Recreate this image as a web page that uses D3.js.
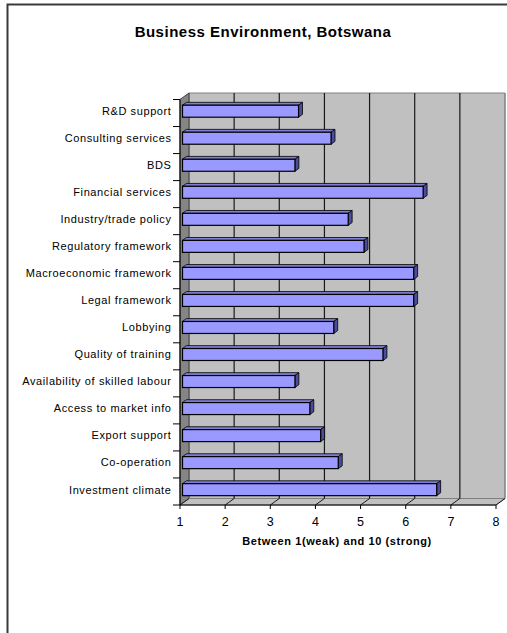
<!DOCTYPE html>
<html>
<head>
<meta charset="utf-8">
<script src="https://cdn.jsdelivr.net/npm/d3@7"></script>
<style>
  html, body { margin: 0; padding: 0; background: #fff; }
  svg { display: block; font-family: Arial, "Liberation Sans", sans-serif; }
</style>
</head>
<body>
<svg id="chart" width="507" height="633"></svg>
<script>
// Survey scores, scale 1 (weak) to 10 (strong)
const categories = [
  "R&D support", "Consulting services", "BDS", "Financial services",
  "Industry/trade policy", "Regulatory framework", "Macroeconomic framework",
  "Legal framework", "Lobbying", "Quality of training",
  "Availability of skilled labour", "Access to market info", "Export support",
  "Co-operation", "Investment climate"
];
const scores = [3.57, 4.29, 3.49, 6.33, 4.67, 5.02, 6.12, 6.12, 4.35, 5.44, 3.49, 3.82, 4.06, 4.45, 6.63];
const xTicks = [1, 2, 3, 4, 5, 6, 7, 8];
const chartTitle = "Business Environment, Botswana";
const xTitle = "Between 1(weak) and 10 (strong)";

const svg = d3.select("#chart");

// outer chart frame
svg.append("rect")
  .attr("x", 7.5).attr("y", 4.5).attr("width", 520).attr("height", 640)
  .attr("fill", "#fff").attr("stroke", "#3a3a3a").attr("stroke-width", 2);

svg.append("text")
  .attr("x", 263).attr("y", 37)
  .attr("text-anchor", "middle")
  .attr("font-size", 15).attr("font-weight", "bold")
  .attr("letter-spacing", 0.5)
  .text(chartTitle);

// front plane of the 3D box
const x = d3.scaleLinear().domain([1, 8]).range([180, 496]);
const y = d3.scaleBand().domain(categories).range([99.5, 505]).padding(0);

// box depth vector and bar placement inside it
const DX = 9, DY = -6.5;
const f0 = 0.28, f1 = 0.72;
const barH = 12;

const yTop = y.range()[0], yBot = y.range()[1];
const x0 = x(1), x1 = x(8);

const pt = p => p.map(d => d.join(",")).join(" ");

// back wall
svg.append("polygon")
  .attr("points", pt([[x0 + DX, yTop + DY], [x1 + DX, yTop + DY], [x1 + DX, yBot + DY], [x0 + DX, yBot + DY]]))
  .attr("fill", "#c0c0c0").attr("stroke", "#808080").attr("stroke-width", 1);

// left side wall
svg.append("polygon")
  .attr("points", pt([[x0, yTop], [x0 + DX, yTop + DY], [x0 + DX, yBot + DY], [x0, yBot]]))
  .attr("fill", "#858585").attr("stroke", "#404040").attr("stroke-width", 1);

// floor
svg.append("polygon")
  .attr("points", pt([[x0, yBot], [x1, yBot], [x1 + DX, yBot + DY], [x0 + DX, yBot + DY]]))
  .attr("fill", "#c0c0c0").attr("stroke", "#808080").attr("stroke-width", 1);

// gridlines on back wall and floor
const grid = svg.append("g");
xTicks.forEach(v => {
  const last = v === xTicks[xTicks.length - 1];
  const col = last ? "#808080" : "#1a1a1a";
  if (v !== xTicks[0]) {
    grid.append("line")
      .attr("x1", x(v) + DX).attr("x2", x(v) + DX)
      .attr("y1", yTop + DY).attr("y2", yBot + DY)
      .attr("stroke", col).attr("stroke-width", last ? 1 : 1.2);
  }
  grid.append("line")
    .attr("x1", x(v)).attr("y1", yBot)
    .attr("x2", x(v) + DX).attr("y2", yBot + DY)
    .attr("stroke", "#1a1a1a").attr("stroke-width", 1);
});

// 3D bars
const bars = svg.append("g");
categories.forEach((c, i) => {
  const v = scores[i];
  const cy = y(c) + y.bandwidth() / 2 + DY * f0;
  const bx0 = x(1) + DX * f0, bx1 = x(v) + DX * f0;
  const bt = cy - barH / 2, bb = cy + barH / 2;
  const ddx = DX * (f1 - f0), ddy = DY * (f1 - f0);
  const g = bars.append("g");
  g.append("polygon")
    .attr("points", pt([[bx0, bt], [bx1, bt], [bx1 + ddx, bt + ddy], [bx0 + ddx, bt + ddy]]))
    .attr("fill", "#7f7fd6").attr("stroke", "#000").attr("stroke-width", 0.8);
  g.append("polygon")
    .attr("points", pt([[bx1, bt], [bx1 + ddx, bt + ddy], [bx1 + ddx, bb + ddy], [bx1, bb]]))
    .attr("fill", "#4c4c99").attr("stroke", "#000").attr("stroke-width", 0.8);
  g.append("rect")
    .attr("x", bx0).attr("y", bt).attr("width", bx1 - bx0).attr("height", barH)
    .attr("fill", "#9999ff").attr("stroke", "#000").attr("stroke-width", 1.2);
});

// category axis
const yAxis = svg.append("g");
yAxis.append("line")
  .attr("x1", x0).attr("x2", x0).attr("y1", yTop).attr("y2", yBot)
  .attr("stroke", "#000").attr("stroke-width", 1);
const bounds = categories.map(c => y(c)).concat([yBot]);
bounds.forEach(b => {
  yAxis.append("line")
    .attr("x1", x0 - 7).attr("x2", x0).attr("y1", b).attr("y2", b)
    .attr("stroke", "#000").attr("stroke-width", 1);
});
categories.forEach(c => {
  yAxis.append("text")
    .attr("x", 171.5).attr("y", y(c) + y.bandwidth() / 2 + DY * f0)
    .attr("dy", "0.35em")
    .attr("text-anchor", "end")
    .attr("font-size", 11)
    .attr("letter-spacing", 0.6)
    .text(c);
});

// value axis
const xAxis = svg.append("g");
xAxis.append("line")
  .attr("x1", x0).attr("x2", x1).attr("y1", yBot).attr("y2", yBot)
  .attr("stroke", "#000").attr("stroke-width", 1);
xTicks.forEach(v => {
  xAxis.append("line")
    .attr("x1", x(v)).attr("x2", x(v)).attr("y1", yBot).attr("y2", yBot + 4)
    .attr("stroke", "#000").attr("stroke-width", 1);
  xAxis.append("text")
    .attr("x", x(v)).attr("y", 526)
    .attr("text-anchor", "middle")
    .attr("font-size", 12.5)
    .text(v);
});

svg.append("text")
  .attr("x", 337).attr("y", 545)
  .attr("text-anchor", "middle")
  .attr("font-size", 11).attr("font-weight", "bold")
  .attr("letter-spacing", 0.6)
  .text(xTitle);
</script>
</body>
</html>
